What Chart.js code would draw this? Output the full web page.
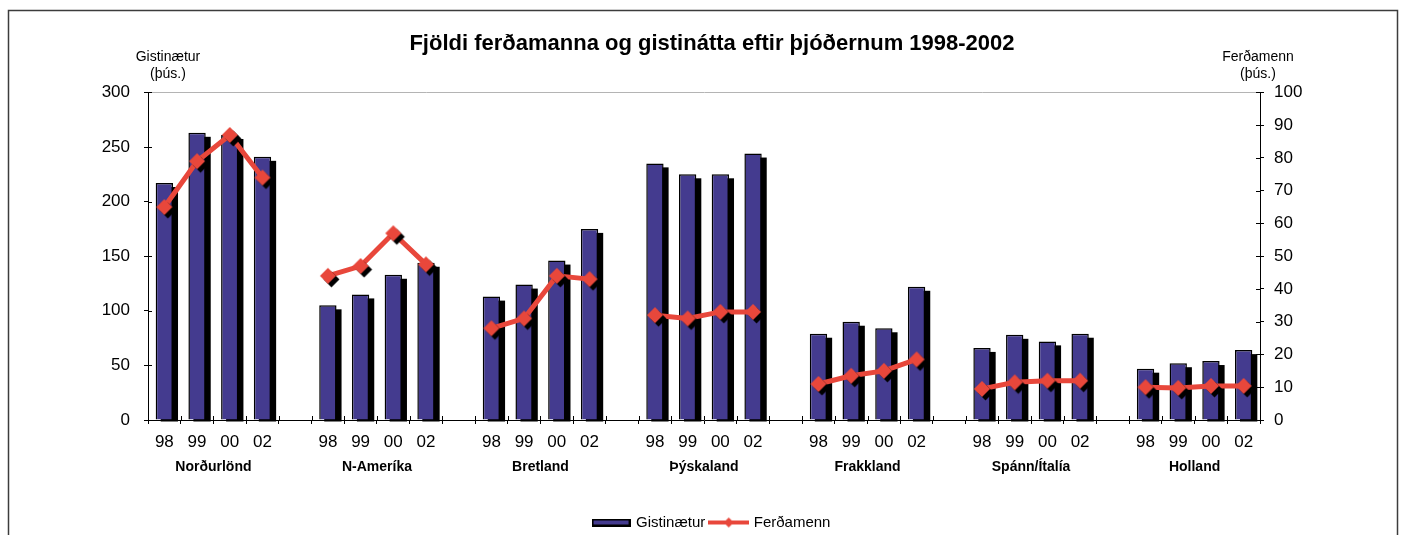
<!DOCTYPE html>
<html>
<head>
<meta charset="utf-8">
<script src="https://cdn.jsdelivr.net/npm/chart.js@4.4.0/dist/chart.umd.min.js"></script>
<style>
  html, body { margin: 0; padding: 0; background: #fff; }
  #wrap { width: 1402px; height: 535px; position: relative; }
</style>
</head>
<body>
<div id="wrap"><canvas id="chart"></canvas></div>
<script>
const groups = ['Norðurlönd', 'N-Ameríka', 'Bretland', 'Þýskaland', 'Frakkland', 'Spánn/Ítalía', 'Holland'];
const years = ['98', '99', '00', '02'];

// Gistinætur (þús.), left axis – 4 years per group
const gistinaetur = [
  217, 263, 261, 241,
  105, 115, 133, 144,
  113, 124, 146, 175,
  235, 225, 225, 244,
  79, 90, 84, 122,
  66, 78, 72, 79,
  47, 52, 54, 64
];

// Ferðamenn (þús.), right axis
const ferdamenn = [
  65, 79, 87, 74,
  44, 47, 57, 47.5,
  28, 31, 44, 43,
  32, 31, 33, 33,
  11, 13.5, 15, 18.5,
  9.5, 11.5, 12, 12,
  10, 9.8, 10.4, 10.4
];

const BLUE = '#443b8f';
const RED = '#e8473b';

Chart.defaults.font.family = 'Arial, "Liberation Sans", sans-serif';
Chart.defaults.color = '#000';

// one empty slot between the country groups
const labels = [], barData = [], lineData = [], groupCenters = [];
groups.forEach((g, gi) => {
  if (gi > 0) { labels.push(''); barData.push(null); lineData.push(null); }
  groupCenters.push(labels.length + (years.length - 1) / 2);
  years.forEach((y, yi) => {
    labels.push(y);
    barData.push(gistinaetur[gi * years.length + yi]);
    lineData.push(ferdamenn[gi * years.length + yi]);
  });
});

function diamond(ctx, cx, cy, r, col) {
  ctx.beginPath();
  ctx.moveTo(cx, cy - r);
  ctx.lineTo(cx + r, cy);
  ctx.lineTo(cx, cy + r);
  ctx.lineTo(cx - r, cy);
  ctx.closePath();
  ctx.fillStyle = col;
  ctx.fill();
}

// marker with its dark drop shadow
const marker = document.createElement('canvas');
marker.width = 28; marker.height = 28;
(function () {
  const c = marker.getContext('2d');
  diamond(c, 17.5, 17.5, 8, '#000');
  diamond(c, 14, 14, 8, RED);
})();

const barSwatch = document.createElement('canvas');
barSwatch.width = 39; barSwatch.height = 8;
(function () {
  const c = barSwatch.getContext('2d');
  c.fillStyle = BLUE;
  c.fillRect(0, 0, 39, 8);
  c.strokeStyle = '#000';
  c.lineWidth = 2;
  c.strokeRect(1, 1, 37, 6);
})();

const lineSwatch = document.createElement('canvas');
lineSwatch.width = 41; lineSwatch.height = 12;
(function () {
  const c = lineSwatch.getContext('2d');
  c.fillStyle = RED;
  c.fillRect(0, 4, 41, 4);
  diamond(c, 20.5, 6, 5, RED);
})();

// black drop shadow behind each bar, placed from the bar elements
const barShadow = {
  id: 'barShadow',
  beforeDatasetDraw(chart, args) {
    if (args.index !== 0) return;
    const ctx = chart.ctx;
    const area = chart.chartArea;
    ctx.save();
    ctx.beginPath();
    ctx.rect(area.left, area.top, area.right - area.left, area.bottom - area.top + 2);
    ctx.clip();
    ctx.fillStyle = '#000';
    args.meta.data.forEach(el => {
      if (el.skip || el.y == null || isNaN(el.y)) return;
      ctx.fillRect(el.x - el.width / 2 + 5, el.y + 4, el.width, el.base - el.y - 2);
    });
    ctx.restore();
  }
};

const decor = {
  id: 'decor',
  beforeDraw(chart) {
    const ctx = chart.ctx;
    ctx.save();
    ctx.strokeStyle = '#3c3c3c';
    ctx.lineWidth = 1.5;
    ctx.strokeRect(8.5, 10.5, 1389, 540);
    ctx.restore();
  },
  afterDraw(chart) {
    const ctx = chart.ctx;
    const { x, y, y2 } = chart.scales;
    ctx.save();
    ctx.strokeStyle = '#000';
    ctx.lineWidth = 1;
    // inner half of the crossing tick marks
    const half = (x.getPixelForValue(1) - x.getPixelForValue(0)) / 2;
    ctx.beginPath();
    for (let i = 0; i <= labels.length; i++) {
      const px = Math.round(x.getPixelForValue(i) - half) + 0.5;
      ctx.moveTo(px, x.top);
      ctx.lineTo(px, x.top - 4);
    }
    y.ticks.forEach(t => {
      const py = Math.round(y.getPixelForValue(t.value)) + 0.5;
      ctx.moveTo(y.right, py);
      ctx.lineTo(y.right + 4, py);
    });
    y2.ticks.forEach(t => {
      const py = Math.round(y2.getPixelForValue(t.value)) + 0.5;
      ctx.moveTo(y2.left, py);
      ctx.lineTo(y2.left - 4, py);
    });
    ctx.stroke();

    // axis titles
    ctx.fillStyle = '#000';
    ctx.font = '14px Arial, "Liberation Sans", sans-serif';
    ctx.textAlign = 'center';
    ctx.textBaseline = 'middle';
    ctx.fillText('Gistinætur', y.right + 20, 57);
    ctx.fillText('(þús.)', y.right + 20, 74);
    ctx.fillText('Ferðamenn', y2.left - 2, 57);
    ctx.fillText('(þús.)', y2.left - 2, 74);
    ctx.restore();
  }
};

new Chart(document.getElementById('chart'), {
  type: 'bar',
  data: {
    labels: labels,
    datasets: [
      {
        label: 'Gistinætur',
        data: barData,
        backgroundColor: BLUE,
        borderColor: '#000',
        borderWidth: 1.5,
        barPercentage: 0.53,
        categoryPercentage: 1,
        xAxisID: 'x',
        yAxisID: 'y',
        order: 2
      },
      {
        type: 'line',
        label: 'Ferðamenn',
        data: lineData,
        borderColor: RED,
        borderWidth: 5,
        pointStyle: marker,
        pointRadius: 8,
        spanGaps: false,
        xAxisID: 'x',
        yAxisID: 'y2',
        order: 1
      }
    ]
  },
  options: {
    responsive: true,
    maintainAspectRatio: false,
    animation: false,
    events: [],
    layout: { padding: { left: 22, right: 0, top: 0, bottom: -5 } },
    plugins: {
      title: {
        display: true,
        text: 'Fjöldi ferðamanna og gistinátta eftir þjóðernum 1998-2002',
        color: '#000',
        font: { size: 22, weight: 'bold' },
        padding: { top: 31, bottom: 35 }
      },
      legend: {
        position: 'bottom',
        labels: {
          usePointStyle: true,
          pointStyleWidth: 35,
          padding: 6,
          color: '#000',
          font: { size: 15 },
          generateLabels: () => [
            { text: 'Gistinætur', pointStyle: barSwatch, datasetIndex: 0, hidden: false, lineWidth: 0 },
            { text: 'Ferðamenn', pointStyle: lineSwatch, datasetIndex: 1, hidden: false, lineWidth: 0 }
          ]
        }
      },
      tooltip: { enabled: false }
    },
    scales: {
      x: {
        type: 'category',
        position: 'bottom',
        weight: 1,
        offset: true,
        grid: { display: true, offset: true, drawOnChartArea: false, tickLength: 4, tickColor: '#000' },
        border: { display: true, color: '#000', width: 1 },
        ticks: { color: '#000', font: { size: 17 }, padding: 8, autoSkip: false, maxRotation: 0 },
        afterFit: s => { s.height = 27; }
      },
      xg: {
        type: 'linear',
        position: 'bottom',
        weight: 2,
        offset: false,
        min: -0.5,
        max: labels.length - 0.5,
        grid: { display: false },
        border: { display: false },
        afterBuildTicks: s => { s.ticks = groupCenters.map(v => ({ value: v })); },
        ticks: {
          autoSkip: false,
          maxRotation: 0,
          color: '#000',
          padding: 4,
          font: { size: 14, weight: 'bold' },
          callback: (v, i) => groups[i]
        },
        afterFit: s => { s.height = 62; }
      },
      y: {
        position: 'left',
        min: 0,
        max: 300,
        ticks: { stepSize: 50, color: '#000', font: { size: 17 }, padding: 14 },
        grid: {
          drawOnChartArea: true,
          color: c => (c.tick && c.tick.value === 300 ? '#b4b4b4' : 'rgba(0,0,0,0)'),
          tickColor: '#000',
          tickLength: 4
        },
        border: { color: '#000', width: 1 },
        afterFit: s => { s.width = 126; }
      },
      y2: {
        position: 'right',
        min: 0,
        max: 100,
        ticks: { stepSize: 10, color: '#000', font: { size: 17 }, padding: 10 },
        grid: { drawOnChartArea: false, tickColor: '#000', tickLength: 4 },
        border: { color: '#000', width: 1 },
        afterFit: s => { s.width = 142; }
      }
    }
  },
  plugins: [barShadow, decor]
});
</script>
</body>
</html>
